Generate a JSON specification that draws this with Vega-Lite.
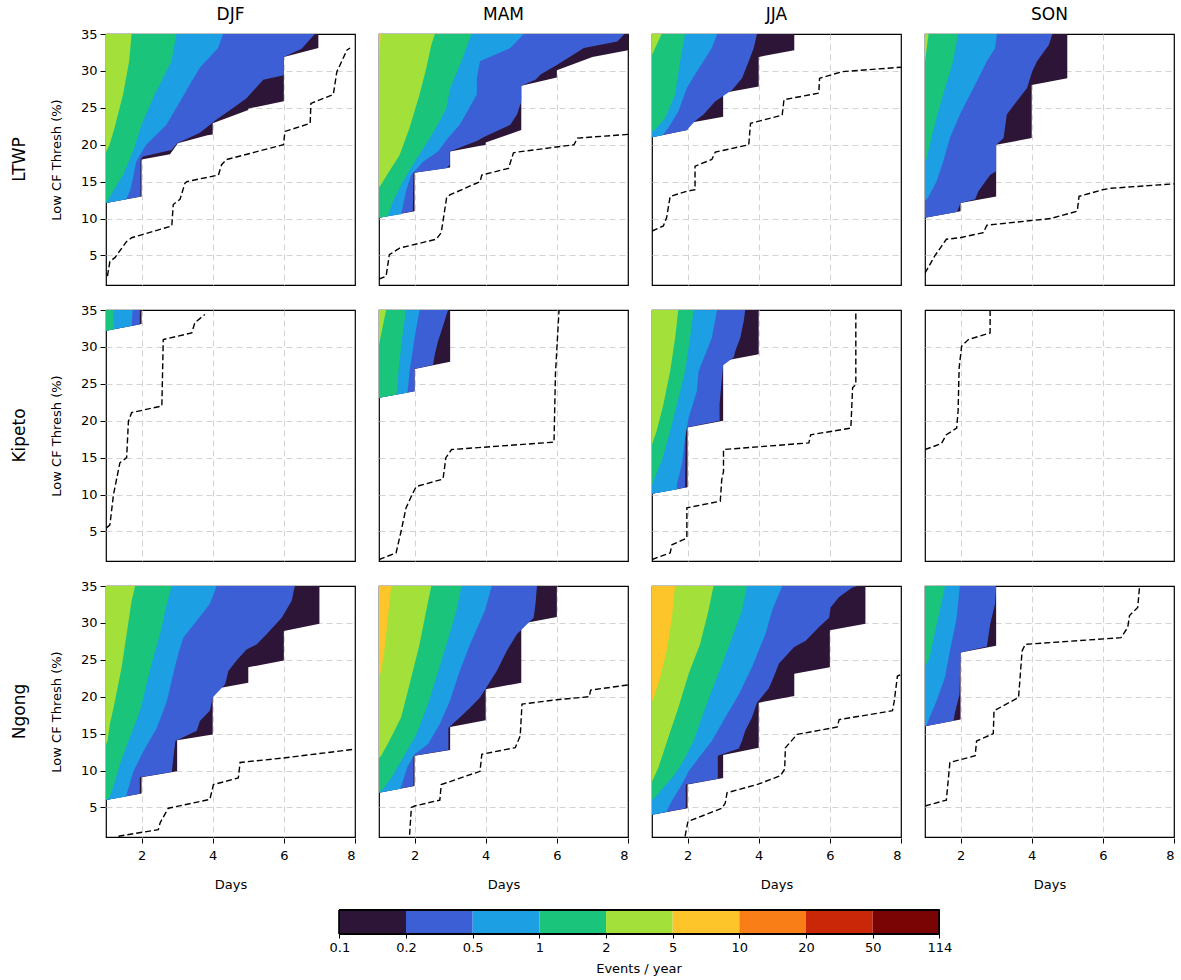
{
"$schema": "https://vega.github.io/schema/vega-lite/v6.json",
"padding": {"left": 11, "top": 6, "right": 5, "bottom": 2},
"background": "white",
"config": {
  "font": "DejaVu Sans",
  "view": {"stroke": "black", "strokeWidth": 1.2},
  "axis": {"labelFont": "DejaVu Sans", "titleFont": "DejaVu Sans", "labelFontSize": 13, "titleFontSize": 13, "titleFontWeight": "normal", "labelColor": "black", "titleColor": "black", "tickColor": "black", "tickSize": 5, "domain": false, "gridColor": "#d3d3d3", "gridDash": [6, 4], "gridWidth": 1},
  "header": {"labelFont": "DejaVu Sans", "labelFontSize": 17, "labelColor": "black"}
},
"vconcat": [
{
  "data": {"values": [
{"s":"LTWP","p":"DJF","k":"2","y":19.0,"x":1.0},{"s":"LTWP","p":"DJF","k":"2","y":20.0,"x":1.1},{"s":"LTWP","p":"DJF","k":"2","y":22.3,"x":1.24},{"s":"LTWP","p":"DJF","k":"2","y":26.8,"x":1.48},{"s":"LTWP","p":"DJF","k":"2","y":31.3,"x":1.65},{"s":"LTWP","p":"DJF","k":"2","y":35,"x":1.72},
{"s":"LTWP","p":"DJF","k":"1","y":12.1,"x":1.0},{"s":"LTWP","p":"DJF","k":"1","y":12.3,"x":1.03},{"s":"LTWP","p":"DJF","k":"1","y":13.7,"x":1.2},{"s":"LTWP","p":"DJF","k":"1","y":15.9,"x":1.48},{"s":"LTWP","p":"DJF","k":"1","y":19.1,"x":1.76},{"s":"LTWP","p":"DJF","k":"1","y":22.7,"x":2.0},{"s":"LTWP","p":"DJF","k":"1","y":26.8,"x":2.37},{"s":"LTWP","p":"DJF","k":"1","y":31.3,"x":2.84},{"s":"LTWP","p":"DJF","k":"1","y":35,"x":2.98},
{"s":"LTWP","p":"DJF","k":"0.5","y":12.1,"x":1.0},{"s":"LTWP","p":"DJF","k":"0.5","y":12.6,"x":1.57},{"s":"LTWP","p":"DJF","k":"0.5","y":13.7,"x":1.67},{"s":"LTWP","p":"DJF","k":"0.5","y":15.5,"x":1.76},{"s":"LTWP","p":"DJF","k":"0.5","y":17.7,"x":1.85},{"s":"LTWP","p":"DJF","k":"0.5","y":20.0,"x":2.13},{"s":"LTWP","p":"DJF","k":"0.5","y":22.7,"x":2.7},{"s":"LTWP","p":"DJF","k":"0.5","y":25.0,"x":2.98},{"s":"LTWP","p":"DJF","k":"0.5","y":28.1,"x":3.35},{"s":"LTWP","p":"DJF","k":"0.5","y":30.4,"x":3.63},{"s":"LTWP","p":"DJF","k":"0.5","y":33.1,"x":4.15},{"s":"LTWP","p":"DJF","k":"0.5","y":35,"x":4.29},
{"s":"LTWP","p":"DJF","k":"0.2","y":12.1,"x":1.0},{"s":"LTWP","p":"DJF","k":"0.2","y":13.0,"x":1.97},{"s":"LTWP","p":"DJF","k":"0.2","y":18.0,"x":1.97},{"s":"LTWP","p":"DJF","k":"0.2","y":18.4,"x":2.04},{"s":"LTWP","p":"DJF","k":"0.2","y":19.3,"x":2.84},{"s":"LTWP","p":"DJF","k":"0.2","y":20.2,"x":3.0},{"s":"LTWP","p":"DJF","k":"0.2","y":21.6,"x":3.63},{"s":"LTWP","p":"DJF","k":"0.2","y":22.3,"x":3.82},{"s":"LTWP","p":"DJF","k":"0.2","y":23.2,"x":4.05},{"s":"LTWP","p":"DJF","k":"0.2","y":25.4,"x":4.7},{"s":"LTWP","p":"DJF","k":"0.2","y":26.3,"x":4.95},{"s":"LTWP","p":"DJF","k":"0.2","y":28.8,"x":5.42},{"s":"LTWP","p":"DJF","k":"0.2","y":29.4,"x":6.0},{"s":"LTWP","p":"DJF","k":"0.2","y":31.9,"x":6.0},{"s":"LTWP","p":"DJF","k":"0.2","y":33.0,"x":6.5},{"s":"LTWP","p":"DJF","k":"0.2","y":35,"x":6.87},
{"s":"LTWP","p":"DJF","k":"0.1","y":12.1,"x":1.0},{"s":"LTWP","p":"DJF","k":"0.1","y":13.0,"x":2.0},{"s":"LTWP","p":"DJF","k":"0.1","y":18.0,"x":2.0},{"s":"LTWP","p":"DJF","k":"0.1","y":18.7,"x":2.8},{"s":"LTWP","p":"DJF","k":"0.1","y":20.2,"x":3.02},{"s":"LTWP","p":"DJF","k":"0.1","y":21.3,"x":3.85},{"s":"LTWP","p":"DJF","k":"0.1","y":21.4,"x":4.0},{"s":"LTWP","p":"DJF","k":"0.1","y":22.9,"x":4.0},{"s":"LTWP","p":"DJF","k":"0.1","y":24.7,"x":5.0},{"s":"LTWP","p":"DJF","k":"0.1","y":24.9,"x":5.0},{"s":"LTWP","p":"DJF","k":"0.1","y":25.9,"x":6.0},{"s":"LTWP","p":"DJF","k":"0.1","y":31.9,"x":6.0},{"s":"LTWP","p":"DJF","k":"0.1","y":33.1,"x":6.97},{"s":"LTWP","p":"DJF","k":"0.1","y":35,"x":6.97},
{"s":"LTWP","p":"DJF","k":"line","y":2.2,"x":1.04},{"s":"LTWP","p":"DJF","k":"line","y":4.2,"x":1.11},{"s":"LTWP","p":"DJF","k":"line","y":4.7,"x":1.25},{"s":"LTWP","p":"DJF","k":"line","y":6.9,"x":1.58},{"s":"LTWP","p":"DJF","k":"line","y":7.4,"x":1.72},{"s":"LTWP","p":"DJF","k":"line","y":7.8,"x":2.0},{"s":"LTWP","p":"DJF","k":"line","y":9.0,"x":2.85},{"s":"LTWP","p":"DJF","k":"line","y":11.9,"x":2.89},{"s":"LTWP","p":"DJF","k":"line","y":12.6,"x":3.08},{"s":"LTWP","p":"DJF","k":"line","y":14.8,"x":3.22},{"s":"LTWP","p":"DJF","k":"line","y":15.0,"x":3.27},{"s":"LTWP","p":"DJF","k":"line","y":15.9,"x":4.16},{"s":"LTWP","p":"DJF","k":"line","y":17.3,"x":4.25},{"s":"LTWP","p":"DJF","k":"line","y":18.0,"x":4.39},{"s":"LTWP","p":"DJF","k":"line","y":20.0,"x":5.99},{"s":"LTWP","p":"DJF","k":"line","y":21.8,"x":6.03},{"s":"LTWP","p":"DJF","k":"line","y":22.9,"x":6.74},{"s":"LTWP","p":"DJF","k":"line","y":25.6,"x":6.76},{"s":"LTWP","p":"DJF","k":"line","y":26.8,"x":7.39},{"s":"LTWP","p":"DJF","k":"line","y":29.9,"x":7.49},{"s":"LTWP","p":"DJF","k":"line","y":30.8,"x":7.58},{"s":"LTWP","p":"DJF","k":"line","y":32.8,"x":7.77},{"s":"LTWP","p":"DJF","k":"line","y":33.1,"x":7.86},

{"s":"LTWP","p":"MAM","k":"5","y":31.3,"x":1.0},{"s":"LTWP","p":"MAM","k":"5","y":35,"x":1.05},
{"s":"LTWP","p":"MAM","k":"2","y":14.2,"x":1.0},{"s":"LTWP","p":"MAM","k":"2","y":14.6,"x":1.06},{"s":"LTWP","p":"MAM","k":"2","y":16.4,"x":1.29},{"s":"LTWP","p":"MAM","k":"2","y":18.6,"x":1.58},{"s":"LTWP","p":"MAM","k":"2","y":22.3,"x":1.86},{"s":"LTWP","p":"MAM","k":"2","y":26.8,"x":2.14},{"s":"LTWP","p":"MAM","k":"2","y":30.4,"x":2.33},{"s":"LTWP","p":"MAM","k":"2","y":33.5,"x":2.47},{"s":"LTWP","p":"MAM","k":"2","y":35,"x":2.57},
{"s":"LTWP","p":"MAM","k":"1","y":10.1,"x":1.0},{"s":"LTWP","p":"MAM","k":"1","y":10.3,"x":1.25},{"s":"LTWP","p":"MAM","k":"1","y":12.3,"x":1.39},{"s":"LTWP","p":"MAM","k":"1","y":15.0,"x":1.67},{"s":"LTWP","p":"MAM","k":"1","y":17.3,"x":1.95},{"s":"LTWP","p":"MAM","k":"1","y":20.5,"x":2.38},{"s":"LTWP","p":"MAM","k":"1","y":23.2,"x":2.71},{"s":"LTWP","p":"MAM","k":"1","y":25.0,"x":2.9},{"s":"LTWP","p":"MAM","k":"1","y":27.7,"x":3.0},{"s":"LTWP","p":"MAM","k":"1","y":31.3,"x":3.32},{"s":"LTWP","p":"MAM","k":"1","y":35,"x":3.6},
{"s":"LTWP","p":"MAM","k":"0.5","y":10.1,"x":1.0},{"s":"LTWP","p":"MAM","k":"0.5","y":10.6,"x":1.62},{"s":"LTWP","p":"MAM","k":"0.5","y":11.2,"x":1.65},{"s":"LTWP","p":"MAM","k":"0.5","y":13.7,"x":1.76},{"s":"LTWP","p":"MAM","k":"0.5","y":15.9,"x":1.9},{"s":"LTWP","p":"MAM","k":"0.5","y":17.7,"x":2.24},{"s":"LTWP","p":"MAM","k":"0.5","y":19.1,"x":2.66},{"s":"LTWP","p":"MAM","k":"0.5","y":20.9,"x":2.94},{"s":"LTWP","p":"MAM","k":"0.5","y":22.7,"x":3.27},{"s":"LTWP","p":"MAM","k":"0.5","y":26.8,"x":3.75},{"s":"LTWP","p":"MAM","k":"0.5","y":29.0,"x":3.75},{"s":"LTWP","p":"MAM","k":"0.5","y":31.3,"x":3.84},{"s":"LTWP","p":"MAM","k":"0.5","y":33.1,"x":4.69},{"s":"LTWP","p":"MAM","k":"0.5","y":35,"x":5.07},
{"s":"LTWP","p":"MAM","k":"0.2","y":10.1,"x":1.0},{"s":"LTWP","p":"MAM","k":"0.2","y":11.0,"x":1.95},{"s":"LTWP","p":"MAM","k":"0.2","y":16.2,"x":1.97},{"s":"LTWP","p":"MAM","k":"0.2","y":16.8,"x":2.9},{"s":"LTWP","p":"MAM","k":"0.2","y":17.3,"x":2.99},{"s":"LTWP","p":"MAM","k":"0.2","y":19.1,"x":2.99},{"s":"LTWP","p":"MAM","k":"0.2","y":20.5,"x":3.75},{"s":"LTWP","p":"MAM","k":"0.2","y":21.1,"x":3.98},{"s":"LTWP","p":"MAM","k":"0.2","y":22.7,"x":4.69},{"s":"LTWP","p":"MAM","k":"0.2","y":24.1,"x":4.88},{"s":"LTWP","p":"MAM","k":"0.2","y":25.9,"x":5.0},{"s":"LTWP","p":"MAM","k":"0.2","y":28.0,"x":5.0},{"s":"LTWP","p":"MAM","k":"0.2","y":28.8,"x":5.4},{"s":"LTWP","p":"MAM","k":"0.2","y":29.5,"x":5.54},{"s":"LTWP","p":"MAM","k":"0.2","y":30.8,"x":6.0},{"s":"LTWP","p":"MAM","k":"0.2","y":33.1,"x":6.76},{"s":"LTWP","p":"MAM","k":"0.2","y":34.0,"x":7.7},{"s":"LTWP","p":"MAM","k":"0.2","y":35,"x":7.9},
{"s":"LTWP","p":"MAM","k":"0.1","y":10.1,"x":1.0},{"s":"LTWP","p":"MAM","k":"0.1","y":11.0,"x":2.0},{"s":"LTWP","p":"MAM","k":"0.1","y":16.2,"x":2.0},{"s":"LTWP","p":"MAM","k":"0.1","y":16.9,"x":3.0},{"s":"LTWP","p":"MAM","k":"0.1","y":19.1,"x":3.0},{"s":"LTWP","p":"MAM","k":"0.1","y":20.0,"x":4.0},{"s":"LTWP","p":"MAM","k":"0.1","y":20.3,"x":4.0},{"s":"LTWP","p":"MAM","k":"0.1","y":22.0,"x":5.0},{"s":"LTWP","p":"MAM","k":"0.1","y":28.0,"x":5.0},{"s":"LTWP","p":"MAM","k":"0.1","y":29.1,"x":6.0},{"s":"LTWP","p":"MAM","k":"0.1","y":30.1,"x":6.0},{"s":"LTWP","p":"MAM","k":"0.1","y":31.9,"x":7.0},{"s":"LTWP","p":"MAM","k":"0.1","y":32.8,"x":8.0},{"s":"LTWP","p":"MAM","k":"0.1","y":35,"x":8.0},
{"s":"LTWP","p":"MAM","k":"line","y":1.8,"x":1.0},{"s":"LTWP","p":"MAM","k":"line","y":2.2,"x":1.2},{"s":"LTWP","p":"MAM","k":"line","y":5.1,"x":1.29},{"s":"LTWP","p":"MAM","k":"line","y":6.0,"x":1.58},{"s":"LTWP","p":"MAM","k":"line","y":7.2,"x":2.61},{"s":"LTWP","p":"MAM","k":"line","y":8.1,"x":2.75},{"s":"LTWP","p":"MAM","k":"line","y":12.8,"x":2.9},{"s":"LTWP","p":"MAM","k":"line","y":13.2,"x":2.99},{"s":"LTWP","p":"MAM","k":"line","y":15.0,"x":3.84},{"s":"LTWP","p":"MAM","k":"line","y":15.9,"x":3.89},{"s":"LTWP","p":"MAM","k":"line","y":16.8,"x":4.64},{"s":"LTWP","p":"MAM","k":"line","y":18.9,"x":4.78},{"s":"LTWP","p":"MAM","k":"line","y":19.0,"x":4.88},{"s":"LTWP","p":"MAM","k":"line","y":20.0,"x":6.48},{"s":"LTWP","p":"MAM","k":"line","y":20.9,"x":6.58},{"s":"LTWP","p":"MAM","k":"line","y":21.4,"x":8.0},

{"s":"LTWP","p":"JJA","k":"2","y":32.2,"x":1.0},{"s":"LTWP","p":"JJA","k":"2","y":35,"x":1.27},
{"s":"LTWP","p":"JJA","k":"1","y":21.8,"x":1.0},{"s":"LTWP","p":"JJA","k":"1","y":22.0,"x":1.08},{"s":"LTWP","p":"JJA","k":"1","y":23.6,"x":1.37},{"s":"LTWP","p":"JJA","k":"1","y":26.8,"x":1.65},{"s":"LTWP","p":"JJA","k":"1","y":31.3,"x":1.79},{"s":"LTWP","p":"JJA","k":"1","y":35,"x":1.93},
{"s":"LTWP","p":"JJA","k":"0.5","y":21.0,"x":1.0},{"s":"LTWP","p":"JJA","k":"0.5","y":21.3,"x":1.3},{"s":"LTWP","p":"JJA","k":"0.5","y":22.3,"x":1.46},{"s":"LTWP","p":"JJA","k":"0.5","y":24.5,"x":1.74},{"s":"LTWP","p":"JJA","k":"0.5","y":27.7,"x":1.98},{"s":"LTWP","p":"JJA","k":"0.5","y":29.5,"x":2.21},{"s":"LTWP","p":"JJA","k":"0.5","y":33.1,"x":2.68},{"s":"LTWP","p":"JJA","k":"0.5","y":35,"x":2.83},
{"s":"LTWP","p":"JJA","k":"0.2","y":21.0,"x":1.0},{"s":"LTWP","p":"JJA","k":"0.2","y":22.0,"x":1.98},{"s":"LTWP","p":"JJA","k":"0.2","y":23.2,"x":2.21},{"s":"LTWP","p":"JJA","k":"0.2","y":24.1,"x":2.45},{"s":"LTWP","p":"JJA","k":"0.2","y":25.9,"x":2.78},{"s":"LTWP","p":"JJA","k":"0.2","y":27.4,"x":3.25},{"s":"LTWP","p":"JJA","k":"0.2","y":29.0,"x":3.53},{"s":"LTWP","p":"JJA","k":"0.2","y":31.3,"x":3.72},{"s":"LTWP","p":"JJA","k":"0.2","y":33.1,"x":3.86},{"s":"LTWP","p":"JJA","k":"0.2","y":35,"x":3.95},
{"s":"LTWP","p":"JJA","k":"0.1","y":21.0,"x":1.0},{"s":"LTWP","p":"JJA","k":"0.1","y":22.0,"x":2.0},{"s":"LTWP","p":"JJA","k":"0.1","y":22.9,"x":2.0},{"s":"LTWP","p":"JJA","k":"0.1","y":23.8,"x":3.0},{"s":"LTWP","p":"JJA","k":"0.1","y":27.0,"x":3.0},{"s":"LTWP","p":"JJA","k":"0.1","y":27.9,"x":4.0},{"s":"LTWP","p":"JJA","k":"0.1","y":31.9,"x":4.0},{"s":"LTWP","p":"JJA","k":"0.1","y":32.8,"x":5.0},{"s":"LTWP","p":"JJA","k":"0.1","y":35,"x":5.0},
{"s":"LTWP","p":"JJA","k":"line","y":8.3,"x":1.0},{"s":"LTWP","p":"JJA","k":"line","y":9.0,"x":1.32},{"s":"LTWP","p":"JJA","k":"line","y":10.1,"x":1.41},{"s":"LTWP","p":"JJA","k":"line","y":13.0,"x":1.51},{"s":"LTWP","p":"JJA","k":"line","y":13.7,"x":1.98},{"s":"LTWP","p":"JJA","k":"line","y":13.9,"x":2.21},{"s":"LTWP","p":"JJA","k":"line","y":17.1,"x":2.21},{"s":"LTWP","p":"JJA","k":"line","y":18.0,"x":2.68},{"s":"LTWP","p":"JJA","k":"line","y":19.0,"x":2.78},{"s":"LTWP","p":"JJA","k":"line","y":20.0,"x":3.72},{"s":"LTWP","p":"JJA","k":"line","y":22.9,"x":3.77},{"s":"LTWP","p":"JJA","k":"line","y":24.0,"x":4.66},{"s":"LTWP","p":"JJA","k":"line","y":26.1,"x":4.71},{"s":"LTWP","p":"JJA","k":"line","y":27.0,"x":5.69},{"s":"LTWP","p":"JJA","k":"line","y":29.0,"x":5.71},{"s":"LTWP","p":"JJA","k":"line","y":29.9,"x":6.35},{"s":"LTWP","p":"JJA","k":"line","y":30.5,"x":8.0},

{"s":"LTWP","p":"SON","k":"2","y":31.3,"x":1.0},{"s":"LTWP","p":"SON","k":"2","y":35,"x":1.1},
{"s":"LTWP","p":"SON","k":"1","y":17.7,"x":1.0},{"s":"LTWP","p":"SON","k":"1","y":18.0,"x":1.04},{"s":"LTWP","p":"SON","k":"1","y":20.9,"x":1.18},{"s":"LTWP","p":"SON","k":"1","y":23.6,"x":1.32},{"s":"LTWP","p":"SON","k":"1","y":26.8,"x":1.51},{"s":"LTWP","p":"SON","k":"1","y":31.3,"x":1.79},{"s":"LTWP","p":"SON","k":"1","y":35,"x":1.93},
{"s":"LTWP","p":"SON","k":"0.5","y":12.4,"x":1.0},{"s":"LTWP","p":"SON","k":"0.5","y":12.8,"x":1.08},{"s":"LTWP","p":"SON","k":"0.5","y":15.0,"x":1.32},{"s":"LTWP","p":"SON","k":"0.5","y":17.7,"x":1.51},{"s":"LTWP","p":"SON","k":"0.5","y":20.9,"x":1.7},{"s":"LTWP","p":"SON","k":"0.5","y":24.1,"x":1.98},{"s":"LTWP","p":"SON","k":"0.5","y":27.7,"x":2.36},{"s":"LTWP","p":"SON","k":"0.5","y":31.3,"x":2.74},{"s":"LTWP","p":"SON","k":"0.5","y":33.1,"x":2.97},{"s":"LTWP","p":"SON","k":"0.5","y":35,"x":3.02},
{"s":"LTWP","p":"SON","k":"0.2","y":10.1,"x":1.0},{"s":"LTWP","p":"SON","k":"0.2","y":10.9,"x":1.9},{"s":"LTWP","p":"SON","k":"0.2","y":12.1,"x":2.0},{"s":"LTWP","p":"SON","k":"0.2","y":12.6,"x":2.41},{"s":"LTWP","p":"SON","k":"0.2","y":13.7,"x":2.5},{"s":"LTWP","p":"SON","k":"0.2","y":15.9,"x":2.83},{"s":"LTWP","p":"SON","k":"0.2","y":16.4,"x":3.0},{"s":"LTWP","p":"SON","k":"0.2","y":20.0,"x":3.0},{"s":"LTWP","p":"SON","k":"0.2","y":20.9,"x":3.21},{"s":"LTWP","p":"SON","k":"0.2","y":24.1,"x":3.3},{"s":"LTWP","p":"SON","k":"0.2","y":25.9,"x":3.58},{"s":"LTWP","p":"SON","k":"0.2","y":27.7,"x":3.87},{"s":"LTWP","p":"SON","k":"0.2","y":29.9,"x":4.01},{"s":"LTWP","p":"SON","k":"0.2","y":31.3,"x":4.15},{"s":"LTWP","p":"SON","k":"0.2","y":33.5,"x":4.48},{"s":"LTWP","p":"SON","k":"0.2","y":35,"x":4.58},
{"s":"LTWP","p":"SON","k":"0.1","y":10.1,"x":1.0},{"s":"LTWP","p":"SON","k":"0.1","y":11.0,"x":2.0},{"s":"LTWP","p":"SON","k":"0.1","y":12.1,"x":2.0},{"s":"LTWP","p":"SON","k":"0.1","y":13.0,"x":3.0},{"s":"LTWP","p":"SON","k":"0.1","y":20.0,"x":3.0},{"s":"LTWP","p":"SON","k":"0.1","y":20.9,"x":4.0},{"s":"LTWP","p":"SON","k":"0.1","y":28.1,"x":4.0},{"s":"LTWP","p":"SON","k":"0.1","y":29.0,"x":5.0},{"s":"LTWP","p":"SON","k":"0.1","y":35,"x":5.0},
{"s":"LTWP","p":"SON","k":"line","y":2.6,"x":1.0},{"s":"LTWP","p":"SON","k":"line","y":4.9,"x":1.27},{"s":"LTWP","p":"SON","k":"line","y":7.2,"x":1.6},{"s":"LTWP","p":"SON","k":"line","y":7.4,"x":1.98},{"s":"LTWP","p":"SON","k":"line","y":8.1,"x":2.64},{"s":"LTWP","p":"SON","k":"line","y":9.1,"x":2.74},{"s":"LTWP","p":"SON","k":"line","y":10.0,"x":4.53},{"s":"LTWP","p":"SON","k":"line","y":11.0,"x":5.28},{"s":"LTWP","p":"SON","k":"line","y":13.0,"x":5.33},{"s":"LTWP","p":"SON","k":"line","y":13.9,"x":5.99},{"s":"LTWP","p":"SON","k":"line","y":14.1,"x":6.23},{"s":"LTWP","p":"SON","k":"line","y":14.7,"x":8.0},

{"s":"Kipeto","p":"DJF","k":"1","y":32.2,"x":1.0},{"s":"Kipeto","p":"DJF","k":"1","y":32.4,"x":1.22},{"s":"Kipeto","p":"DJF","k":"1","y":35,"x":1.2},
{"s":"Kipeto","p":"DJF","k":"0.5","y":32.2,"x":1.0},{"s":"Kipeto","p":"DJF","k":"0.5","y":32.85,"x":1.72},{"s":"Kipeto","p":"DJF","k":"0.5","y":35,"x":1.75},
{"s":"Kipeto","p":"DJF","k":"0.2","y":32.2,"x":1.0},{"s":"Kipeto","p":"DJF","k":"0.2","y":33.05,"x":1.95},{"s":"Kipeto","p":"DJF","k":"0.2","y":35,"x":1.95},
{"s":"Kipeto","p":"DJF","k":"0.1","y":32.2,"x":1.0},{"s":"Kipeto","p":"DJF","k":"0.1","y":33.1,"x":2.0},{"s":"Kipeto","p":"DJF","k":"0.1","y":35,"x":2.0},
{"s":"Kipeto","p":"DJF","k":"line","y":5.5,"x":1.02},{"s":"Kipeto","p":"DJF","k":"line","y":5.9,"x":1.11},{"s":"Kipeto","p":"DJF","k":"line","y":10.0,"x":1.21},{"s":"Kipeto","p":"DJF","k":"line","y":14.3,"x":1.39},{"s":"Kipeto","p":"DJF","k":"line","y":15.0,"x":1.58},{"s":"Kipeto","p":"DJF","k":"line","y":19.9,"x":1.63},{"s":"Kipeto","p":"DJF","k":"line","y":21.1,"x":1.72},{"s":"Kipeto","p":"DJF","k":"line","y":22.0,"x":2.57},{"s":"Kipeto","p":"DJF","k":"line","y":31.0,"x":2.61},{"s":"Kipeto","p":"DJF","k":"line","y":31.9,"x":3.41},{"s":"Kipeto","p":"DJF","k":"line","y":33.3,"x":3.5},{"s":"Kipeto","p":"DJF","k":"line","y":34.4,"x":3.78},

{"s":"Kipeto","p":"MAM","k":"2","y":30.3,"x":1.0},{"s":"Kipeto","p":"MAM","k":"2","y":35,"x":1.2},
{"s":"Kipeto","p":"MAM","k":"1","y":23.1,"x":1.0},{"s":"Kipeto","p":"MAM","k":"1","y":23.55,"x":1.5},{"s":"Kipeto","p":"MAM","k":"1","y":26.7,"x":1.55},{"s":"Kipeto","p":"MAM","k":"1","y":31.2,"x":1.65},{"s":"Kipeto","p":"MAM","k":"1","y":35,"x":1.76},
{"s":"Kipeto","p":"MAM","k":"0.5","y":23.1,"x":1.0},{"s":"Kipeto","p":"MAM","k":"0.5","y":23.8,"x":1.8},{"s":"Kipeto","p":"MAM","k":"0.5","y":26.7,"x":1.86},{"s":"Kipeto","p":"MAM","k":"0.5","y":31.2,"x":2.0},{"s":"Kipeto","p":"MAM","k":"0.5","y":35,"x":2.14},
{"s":"Kipeto","p":"MAM","k":"0.2","y":23.1,"x":1.0},{"s":"Kipeto","p":"MAM","k":"0.2","y":24.0,"x":2.0},{"s":"Kipeto","p":"MAM","k":"0.2","y":27.0,"x":2.0},{"s":"Kipeto","p":"MAM","k":"0.2","y":27.6,"x":2.52},{"s":"Kipeto","p":"MAM","k":"0.2","y":29.0,"x":2.57},{"s":"Kipeto","p":"MAM","k":"0.2","y":30.8,"x":2.66},{"s":"Kipeto","p":"MAM","k":"0.2","y":32.1,"x":2.75},{"s":"Kipeto","p":"MAM","k":"0.2","y":35,"x":2.94},
{"s":"Kipeto","p":"MAM","k":"0.1","y":23.1,"x":1.0},{"s":"Kipeto","p":"MAM","k":"0.1","y":24.0,"x":2.0},{"s":"Kipeto","p":"MAM","k":"0.1","y":27.0,"x":2.0},{"s":"Kipeto","p":"MAM","k":"0.1","y":28.0,"x":3.0},{"s":"Kipeto","p":"MAM","k":"0.1","y":35,"x":3.0},
{"s":"Kipeto","p":"MAM","k":"line","y":1.2,"x":1.0},{"s":"Kipeto","p":"MAM","k":"line","y":2.1,"x":1.48},{"s":"Kipeto","p":"MAM","k":"line","y":5.0,"x":1.62},{"s":"Kipeto","p":"MAM","k":"line","y":8.2,"x":1.76},{"s":"Kipeto","p":"MAM","k":"line","y":10.2,"x":1.95},{"s":"Kipeto","p":"MAM","k":"line","y":11.1,"x":2.05},{"s":"Kipeto","p":"MAM","k":"line","y":12.1,"x":2.8},{"s":"Kipeto","p":"MAM","k":"line","y":15.0,"x":2.88},{"s":"Kipeto","p":"MAM","k":"line","y":16.1,"x":3.04},{"s":"Kipeto","p":"MAM","k":"line","y":17.1,"x":5.92},{"s":"Kipeto","p":"MAM","k":"line","y":26.3,"x":5.96},{"s":"Kipeto","p":"MAM","k":"line","y":34.9,"x":6.06},

{"s":"Kipeto","p":"JJA","k":"2","y":16.8,"x":1.0},{"s":"Kipeto","p":"JJA","k":"2","y":18.6,"x":1.13},{"s":"Kipeto","p":"JJA","k":"2","y":22.2,"x":1.32},{"s":"Kipeto","p":"JJA","k":"2","y":26.7,"x":1.51},{"s":"Kipeto","p":"JJA","k":"2","y":31.2,"x":1.65},{"s":"Kipeto","p":"JJA","k":"2","y":35,"x":1.74},
{"s":"Kipeto","p":"JJA","k":"1","y":11.3,"x":1.0},{"s":"Kipeto","p":"JJA","k":"1","y":12.3,"x":1.08},{"s":"Kipeto","p":"JJA","k":"1","y":14.5,"x":1.27},{"s":"Kipeto","p":"JJA","k":"1","y":17.7,"x":1.46},{"s":"Kipeto","p":"JJA","k":"1","y":22.2,"x":1.7},{"s":"Kipeto","p":"JJA","k":"1","y":26.7,"x":1.93},{"s":"Kipeto","p":"JJA","k":"1","y":31.2,"x":2.07},{"s":"Kipeto","p":"JJA","k":"1","y":35,"x":2.17},
{"s":"Kipeto","p":"JJA","k":"0.5","y":10.1,"x":1.0},{"s":"Kipeto","p":"JJA","k":"0.5","y":10.7,"x":1.7},{"s":"Kipeto","p":"JJA","k":"0.5","y":11.4,"x":1.7},{"s":"Kipeto","p":"JJA","k":"0.5","y":14.1,"x":1.84},{"s":"Kipeto","p":"JJA","k":"0.5","y":17.7,"x":1.93},{"s":"Kipeto","p":"JJA","k":"0.5","y":20.4,"x":2.03},{"s":"Kipeto","p":"JJA","k":"0.5","y":24.0,"x":2.26},{"s":"Kipeto","p":"JJA","k":"0.5","y":26.7,"x":2.31},{"s":"Kipeto","p":"JJA","k":"0.5","y":31.2,"x":2.68},{"s":"Kipeto","p":"JJA","k":"0.5","y":35,"x":2.83},
{"s":"Kipeto","p":"JJA","k":"0.2","y":10.1,"x":1.0},{"s":"Kipeto","p":"JJA","k":"0.2","y":10.95,"x":1.93},{"s":"Kipeto","p":"JJA","k":"0.2","y":19.1,"x":1.95},{"s":"Kipeto","p":"JJA","k":"0.2","y":20.0,"x":2.9},{"s":"Kipeto","p":"JJA","k":"0.2","y":22.2,"x":2.9},{"s":"Kipeto","p":"JJA","k":"0.2","y":24.5,"x":2.94},{"s":"Kipeto","p":"JJA","k":"0.2","y":27.5,"x":3.0},{"s":"Kipeto","p":"JJA","k":"0.2","y":28.6,"x":3.3},{"s":"Kipeto","p":"JJA","k":"0.2","y":29.4,"x":3.34},{"s":"Kipeto","p":"JJA","k":"0.2","y":31.2,"x":3.48},{"s":"Kipeto","p":"JJA","k":"0.2","y":33.5,"x":3.58},{"s":"Kipeto","p":"JJA","k":"0.2","y":35,"x":3.62},
{"s":"Kipeto","p":"JJA","k":"0.1","y":10.1,"x":1.0},{"s":"Kipeto","p":"JJA","k":"0.1","y":11.0,"x":2.0},{"s":"Kipeto","p":"JJA","k":"0.1","y":19.1,"x":2.0},{"s":"Kipeto","p":"JJA","k":"0.1","y":20.0,"x":3.0},{"s":"Kipeto","p":"JJA","k":"0.1","y":28.1,"x":3.0},{"s":"Kipeto","p":"JJA","k":"0.1","y":29.0,"x":4.0},{"s":"Kipeto","p":"JJA","k":"0.1","y":35,"x":4.0},
{"s":"Kipeto","p":"JJA","k":"line","y":1.2,"x":1.0},{"s":"Kipeto","p":"JJA","k":"line","y":2.1,"x":1.51},{"s":"Kipeto","p":"JJA","k":"line","y":3.2,"x":1.56},{"s":"Kipeto","p":"JJA","k":"line","y":4.1,"x":1.98},{"s":"Kipeto","p":"JJA","k":"line","y":8.2,"x":1.98},{"s":"Kipeto","p":"JJA","k":"line","y":9.1,"x":2.92},{"s":"Kipeto","p":"JJA","k":"line","y":12.0,"x":2.96},{"s":"Kipeto","p":"JJA","k":"line","y":13.1,"x":3.01},{"s":"Kipeto","p":"JJA","k":"line","y":16.1,"x":3.01},{"s":"Kipeto","p":"JJA","k":"line","y":17.0,"x":5.41},{"s":"Kipeto","p":"JJA","k":"line","y":18.1,"x":5.46},{"s":"Kipeto","p":"JJA","k":"line","y":19.0,"x":6.59},{"s":"Kipeto","p":"JJA","k":"line","y":24.5,"x":6.64},{"s":"Kipeto","p":"JJA","k":"line","y":24.9,"x":6.73},{"s":"Kipeto","p":"JJA","k":"line","y":34.9,"x":6.73},

{"s":"Kipeto","p":"SON","k":"line","y":16.1,"x":1.0},{"s":"Kipeto","p":"SON","k":"line","y":16.9,"x":1.46},{"s":"Kipeto","p":"SON","k":"line","y":18.1,"x":1.6},{"s":"Kipeto","p":"SON","k":"line","y":19.0,"x":1.89},{"s":"Kipeto","p":"SON","k":"line","y":21.3,"x":1.93},{"s":"Kipeto","p":"SON","k":"line","y":27.2,"x":1.96},{"s":"Kipeto","p":"SON","k":"line","y":30.1,"x":2.03},{"s":"Kipeto","p":"SON","k":"line","y":31.0,"x":2.22},{"s":"Kipeto","p":"SON","k":"line","y":31.9,"x":2.83},{"s":"Kipeto","p":"SON","k":"line","y":34.9,"x":2.83},

{"s":"Ngong","p":"DJF","k":"2","y":13.6,"x":1.0},{"s":"Ngong","p":"DJF","k":"2","y":14.0,"x":1.04},{"s":"Ngong","p":"DJF","k":"2","y":16.3,"x":1.11},{"s":"Ngong","p":"DJF","k":"2","y":19.4,"x":1.25},{"s":"Ngong","p":"DJF","k":"2","y":24.0,"x":1.44},{"s":"Ngong","p":"DJF","k":"2","y":28.5,"x":1.58},{"s":"Ngong","p":"DJF","k":"2","y":33.0,"x":1.72},{"s":"Ngong","p":"DJF","k":"2","y":35,"x":1.82},
{"s":"Ngong","p":"DJF","k":"1","y":6.0,"x":1.0},{"s":"Ngong","p":"DJF","k":"1","y":6.3,"x":1.09},{"s":"Ngong","p":"DJF","k":"1","y":7.7,"x":1.2},{"s":"Ngong","p":"DJF","k":"1","y":10.8,"x":1.39},{"s":"Ngong","p":"DJF","k":"1","y":14.5,"x":1.67},{"s":"Ngong","p":"DJF","k":"1","y":18.1,"x":1.96},{"s":"Ngong","p":"DJF","k":"1","y":21.7,"x":2.14},{"s":"Ngong","p":"DJF","k":"1","y":25.3,"x":2.33},{"s":"Ngong","p":"DJF","k":"1","y":28.5,"x":2.52},{"s":"Ngong","p":"DJF","k":"1","y":32.6,"x":2.71},{"s":"Ngong","p":"DJF","k":"1","y":35,"x":2.85},
{"s":"Ngong","p":"DJF","k":"0.5","y":6.0,"x":1.0},{"s":"Ngong","p":"DJF","k":"0.5","y":6.5,"x":1.58},{"s":"Ngong","p":"DJF","k":"0.5","y":6.8,"x":1.58},{"s":"Ngong","p":"DJF","k":"0.5","y":9.9,"x":1.77},{"s":"Ngong","p":"DJF","k":"0.5","y":12.6,"x":2.05},{"s":"Ngong","p":"DJF","k":"0.5","y":15.8,"x":2.43},{"s":"Ngong","p":"DJF","k":"0.5","y":19.4,"x":2.71},{"s":"Ngong","p":"DJF","k":"0.5","y":23.1,"x":2.89},{"s":"Ngong","p":"DJF","k":"0.5","y":25.8,"x":3.03},{"s":"Ngong","p":"DJF","k":"0.5","y":28.0,"x":3.17},{"s":"Ngong","p":"DJF","k":"0.5","y":30.3,"x":3.55},{"s":"Ngong","p":"DJF","k":"0.5","y":32.6,"x":3.92},{"s":"Ngong","p":"DJF","k":"0.5","y":35,"x":4.11},
{"s":"Ngong","p":"DJF","k":"0.2","y":6.0,"x":1.0},{"s":"Ngong","p":"DJF","k":"0.2","y":6.85,"x":1.95},{"s":"Ngong","p":"DJF","k":"0.2","y":9.1,"x":1.95},{"s":"Ngong","p":"DJF","k":"0.2","y":9.8,"x":2.85},{"s":"Ngong","p":"DJF","k":"0.2","y":12.0,"x":2.9},{"s":"Ngong","p":"DJF","k":"0.2","y":14.0,"x":2.95},{"s":"Ngong","p":"DJF","k":"0.2","y":15.4,"x":3.55},{"s":"Ngong","p":"DJF","k":"0.2","y":16.7,"x":3.64},{"s":"Ngong","p":"DJF","k":"0.2","y":18.1,"x":3.92},{"s":"Ngong","p":"DJF","k":"0.2","y":19.9,"x":4.0},{"s":"Ngong","p":"DJF","k":"0.2","y":21.7,"x":4.35},{"s":"Ngong","p":"DJF","k":"0.2","y":23.5,"x":4.44},{"s":"Ngong","p":"DJF","k":"0.2","y":24.9,"x":4.67},{"s":"Ngong","p":"DJF","k":"0.2","y":26.4,"x":4.95},{"s":"Ngong","p":"DJF","k":"0.2","y":27.1,"x":5.24},{"s":"Ngong","p":"DJF","k":"0.2","y":28.5,"x":5.52},{"s":"Ngong","p":"DJF","k":"0.2","y":30.7,"x":5.94},{"s":"Ngong","p":"DJF","k":"0.2","y":33.0,"x":6.22},{"s":"Ngong","p":"DJF","k":"0.2","y":35,"x":6.31},
{"s":"Ngong","p":"DJF","k":"0.1","y":6.0,"x":1.0},{"s":"Ngong","p":"DJF","k":"0.1","y":6.9,"x":2.0},{"s":"Ngong","p":"DJF","k":"0.1","y":9.1,"x":2.0},{"s":"Ngong","p":"DJF","k":"0.1","y":9.9,"x":3.0},{"s":"Ngong","p":"DJF","k":"0.1","y":14.1,"x":3.0},{"s":"Ngong","p":"DJF","k":"0.1","y":14.9,"x":4.0},{"s":"Ngong","p":"DJF","k":"0.1","y":21.0,"x":4.0},{"s":"Ngong","p":"DJF","k":"0.1","y":21.9,"x":5.0},{"s":"Ngong","p":"DJF","k":"0.1","y":24.0,"x":5.0},{"s":"Ngong","p":"DJF","k":"0.1","y":24.9,"x":6.0},{"s":"Ngong","p":"DJF","k":"0.1","y":28.9,"x":6.0},{"s":"Ngong","p":"DJF","k":"0.1","y":29.9,"x":7.0},{"s":"Ngong","p":"DJF","k":"0.1","y":35,"x":7.0},
{"s":"Ngong","p":"DJF","k":"line","y":1.1,"x":1.35},{"s":"Ngong","p":"DJF","k":"line","y":2.0,"x":2.47},{"s":"Ngong","p":"DJF","k":"line","y":2.9,"x":2.52},{"s":"Ngong","p":"DJF","k":"line","y":4.9,"x":2.75},{"s":"Ngong","p":"DJF","k":"line","y":6.1,"x":3.92},{"s":"Ngong","p":"DJF","k":"line","y":8.1,"x":4.02},{"s":"Ngong","p":"DJF","k":"line","y":9.0,"x":4.72},{"s":"Ngong","p":"DJF","k":"line","y":11.1,"x":4.77},{"s":"Ngong","p":"DJF","k":"line","y":11.7,"x":5.99},{"s":"Ngong","p":"DJF","k":"line","y":12.9,"x":8.0},

{"s":"Ngong","p":"MAM","k":"5","y":22.6,"x":1.0},{"s":"Ngong","p":"MAM","k":"5","y":23.5,"x":1.06},{"s":"Ngong","p":"MAM","k":"5","y":26.2,"x":1.15},{"s":"Ngong","p":"MAM","k":"5","y":30.7,"x":1.25},{"s":"Ngong","p":"MAM","k":"5","y":35,"x":1.34},
{"s":"Ngong","p":"MAM","k":"2","y":11.7,"x":1.0},{"s":"Ngong","p":"MAM","k":"2","y":12.0,"x":1.06},{"s":"Ngong","p":"MAM","k":"2","y":14.0,"x":1.29},{"s":"Ngong","p":"MAM","k":"2","y":17.2,"x":1.62},{"s":"Ngong","p":"MAM","k":"2","y":21.7,"x":1.86},{"s":"Ngong","p":"MAM","k":"2","y":27.1,"x":2.14},{"s":"Ngong","p":"MAM","k":"2","y":31.7,"x":2.33},{"s":"Ngong","p":"MAM","k":"2","y":35,"x":2.47},
{"s":"Ngong","p":"MAM","k":"1","y":7.0,"x":1.0},{"s":"Ngong","p":"MAM","k":"1","y":7.4,"x":1.1},{"s":"Ngong","p":"MAM","k":"1","y":9.0,"x":1.34},{"s":"Ngong","p":"MAM","k":"1","y":11.7,"x":1.67},{"s":"Ngong","p":"MAM","k":"1","y":14.9,"x":2.05},{"s":"Ngong","p":"MAM","k":"1","y":19.0,"x":2.38},{"s":"Ngong","p":"MAM","k":"1","y":22.6,"x":2.61},{"s":"Ngong","p":"MAM","k":"1","y":27.1,"x":2.9},{"s":"Ngong","p":"MAM","k":"1","y":31.7,"x":3.18},{"s":"Ngong","p":"MAM","k":"1","y":35,"x":3.32},
{"s":"Ngong","p":"MAM","k":"0.5","y":7.0,"x":1.0},{"s":"Ngong","p":"MAM","k":"0.5","y":7.55,"x":1.6},{"s":"Ngong","p":"MAM","k":"0.5","y":9.0,"x":1.7},{"s":"Ngong","p":"MAM","k":"0.5","y":10.5,"x":1.8},{"s":"Ngong","p":"MAM","k":"0.5","y":12.2,"x":2.0},{"s":"Ngong","p":"MAM","k":"0.5","y":13.6,"x":2.38},{"s":"Ngong","p":"MAM","k":"0.5","y":16.3,"x":2.71},{"s":"Ngong","p":"MAM","k":"0.5","y":19.4,"x":2.99},{"s":"Ngong","p":"MAM","k":"0.5","y":23.5,"x":3.27},{"s":"Ngong","p":"MAM","k":"0.5","y":27.1,"x":3.56},{"s":"Ngong","p":"MAM","k":"0.5","y":31.7,"x":3.98},{"s":"Ngong","p":"MAM","k":"0.5","y":35,"x":4.17},
{"s":"Ngong","p":"MAM","k":"0.2","y":7.0,"x":1.0},{"s":"Ngong","p":"MAM","k":"0.2","y":7.9,"x":1.97},{"s":"Ngong","p":"MAM","k":"0.2","y":12.0,"x":1.97},{"s":"Ngong","p":"MAM","k":"0.2","y":12.8,"x":2.95},{"s":"Ngong","p":"MAM","k":"0.2","y":15.8,"x":2.95},{"s":"Ngong","p":"MAM","k":"0.2","y":17.2,"x":3.27},{"s":"Ngong","p":"MAM","k":"0.2","y":18.5,"x":3.56},{"s":"Ngong","p":"MAM","k":"0.2","y":19.9,"x":3.84},{"s":"Ngong","p":"MAM","k":"0.2","y":23.5,"x":4.31},{"s":"Ngong","p":"MAM","k":"0.2","y":26.2,"x":4.59},{"s":"Ngong","p":"MAM","k":"0.2","y":28.5,"x":4.88},{"s":"Ngong","p":"MAM","k":"0.2","y":30.7,"x":5.35},{"s":"Ngong","p":"MAM","k":"0.2","y":32.6,"x":5.4},{"s":"Ngong","p":"MAM","k":"0.2","y":35,"x":5.44},
{"s":"Ngong","p":"MAM","k":"0.1","y":7.0,"x":1.0},{"s":"Ngong","p":"MAM","k":"0.1","y":7.9,"x":2.0},{"s":"Ngong","p":"MAM","k":"0.1","y":12.0,"x":2.0},{"s":"Ngong","p":"MAM","k":"0.1","y":12.8,"x":3.0},{"s":"Ngong","p":"MAM","k":"0.1","y":15.9,"x":3.0},{"s":"Ngong","p":"MAM","k":"0.1","y":16.8,"x":4.0},{"s":"Ngong","p":"MAM","k":"0.1","y":21.0,"x":4.0},{"s":"Ngong","p":"MAM","k":"0.1","y":21.9,"x":5.0},{"s":"Ngong","p":"MAM","k":"0.1","y":29.9,"x":5.0},{"s":"Ngong","p":"MAM","k":"0.1","y":30.8,"x":6.0},{"s":"Ngong","p":"MAM","k":"0.1","y":35,"x":6.0},
{"s":"Ngong","p":"MAM","k":"line","y":1.3,"x":1.86},{"s":"Ngong","p":"MAM","k":"line","y":5.0,"x":1.91},{"s":"Ngong","p":"MAM","k":"line","y":5.2,"x":2.0},{"s":"Ngong","p":"MAM","k":"line","y":6.0,"x":2.71},{"s":"Ngong","p":"MAM","k":"line","y":8.1,"x":2.75},{"s":"Ngong","p":"MAM","k":"line","y":9.9,"x":3.84},{"s":"Ngong","p":"MAM","k":"line","y":12.2,"x":3.89},{"s":"Ngong","p":"MAM","k":"line","y":13.1,"x":4.83},{"s":"Ngong","p":"MAM","k":"line","y":14.7,"x":4.97},{"s":"Ngong","p":"MAM","k":"line","y":19.0,"x":5.02},{"s":"Ngong","p":"MAM","k":"line","y":19.6,"x":6.0},{"s":"Ngong","p":"MAM","k":"line","y":20.0,"x":6.91},{"s":"Ngong","p":"MAM","k":"line","y":20.9,"x":6.95},{"s":"Ngong","p":"MAM","k":"line","y":21.6,"x":8.0},

{"s":"Ngong","p":"JJA","k":"5","y":19.4,"x":1.0},{"s":"Ngong","p":"JJA","k":"5","y":20.3,"x":1.08},{"s":"Ngong","p":"JJA","k":"5","y":22.6,"x":1.23},{"s":"Ngong","p":"JJA","k":"5","y":26.2,"x":1.41},{"s":"Ngong","p":"JJA","k":"5","y":30.7,"x":1.56},{"s":"Ngong","p":"JJA","k":"5","y":35,"x":1.65},
{"s":"Ngong","p":"JJA","k":"2","y":8.5,"x":1.0},{"s":"Ngong","p":"JJA","k":"2","y":10.4,"x":1.18},{"s":"Ngong","p":"JJA","k":"2","y":14.5,"x":1.46},{"s":"Ngong","p":"JJA","k":"2","y":18.5,"x":1.74},{"s":"Ngong","p":"JJA","k":"2","y":23.1,"x":2.03},{"s":"Ngong","p":"JJA","k":"2","y":27.1,"x":2.35},{"s":"Ngong","p":"JJA","k":"2","y":31.7,"x":2.59},{"s":"Ngong","p":"JJA","k":"2","y":35,"x":2.73},
{"s":"Ngong","p":"JJA","k":"1","y":6.0,"x":1.0},{"s":"Ngong","p":"JJA","k":"1","y":6.3,"x":1.08},{"s":"Ngong","p":"JJA","k":"1","y":7.7,"x":1.32},{"s":"Ngong","p":"JJA","k":"1","y":9.5,"x":1.65},{"s":"Ngong","p":"JJA","k":"1","y":11.7,"x":1.93},{"s":"Ngong","p":"JJA","k":"1","y":14.0,"x":2.17},{"s":"Ngong","p":"JJA","k":"1","y":17.2,"x":2.4},{"s":"Ngong","p":"JJA","k":"1","y":20.8,"x":2.68},{"s":"Ngong","p":"JJA","k":"1","y":24.4,"x":2.97},{"s":"Ngong","p":"JJA","k":"1","y":28.0,"x":3.25},{"s":"Ngong","p":"JJA","k":"1","y":31.7,"x":3.53},{"s":"Ngong","p":"JJA","k":"1","y":35,"x":3.67},
{"s":"Ngong","p":"JJA","k":"0.5","y":4.0,"x":1.0},{"s":"Ngong","p":"JJA","k":"0.5","y":4.4,"x":1.4},{"s":"Ngong","p":"JJA","k":"0.5","y":5.9,"x":1.56},{"s":"Ngong","p":"JJA","k":"0.5","y":8.1,"x":1.84},{"s":"Ngong","p":"JJA","k":"0.5","y":9.9,"x":2.03},{"s":"Ngong","p":"JJA","k":"0.5","y":11.7,"x":2.31},{"s":"Ngong","p":"JJA","k":"0.5","y":14.0,"x":2.68},{"s":"Ngong","p":"JJA","k":"0.5","y":17.2,"x":3.06},{"s":"Ngong","p":"JJA","k":"0.5","y":20.3,"x":3.44},{"s":"Ngong","p":"JJA","k":"0.5","y":24.0,"x":3.81},{"s":"Ngong","p":"JJA","k":"0.5","y":28.5,"x":4.19},{"s":"Ngong","p":"JJA","k":"0.5","y":31.7,"x":4.38},{"s":"Ngong","p":"JJA","k":"0.5","y":35,"x":4.66},
{"s":"Ngong","p":"JJA","k":"0.2","y":4.0,"x":1.0},{"s":"Ngong","p":"JJA","k":"0.2","y":4.9,"x":1.95},{"s":"Ngong","p":"JJA","k":"0.2","y":8.1,"x":1.95},{"s":"Ngong","p":"JJA","k":"0.2","y":8.9,"x":2.85},{"s":"Ngong","p":"JJA","k":"0.2","y":12.0,"x":2.85},{"s":"Ngong","p":"JJA","k":"0.2","y":13.0,"x":3.44},{"s":"Ngong","p":"JJA","k":"0.2","y":14.0,"x":3.53},{"s":"Ngong","p":"JJA","k":"0.2","y":15.4,"x":3.62},{"s":"Ngong","p":"JJA","k":"0.2","y":17.2,"x":3.81},{"s":"Ngong","p":"JJA","k":"0.2","y":19.2,"x":3.95},{"s":"Ngong","p":"JJA","k":"0.2","y":21.1,"x":4.28},{"s":"Ngong","p":"JJA","k":"0.2","y":22.2,"x":4.38},{"s":"Ngong","p":"JJA","k":"0.2","y":24.5,"x":4.57},{"s":"Ngong","p":"JJA","k":"0.2","y":26.7,"x":4.99},{"s":"Ngong","p":"JJA","k":"0.2","y":27.6,"x":5.32},{"s":"Ngong","p":"JJA","k":"0.2","y":29.4,"x":5.69},{"s":"Ngong","p":"JJA","k":"0.2","y":30.7,"x":5.98},{"s":"Ngong","p":"JJA","k":"0.2","y":32.1,"x":6.02},{"s":"Ngong","p":"JJA","k":"0.2","y":33.5,"x":6.26},{"s":"Ngong","p":"JJA","k":"0.2","y":34.8,"x":6.63},{"s":"Ngong","p":"JJA","k":"0.2","y":35,"x":6.78},
{"s":"Ngong","p":"JJA","k":"0.1","y":4.0,"x":1.0},{"s":"Ngong","p":"JJA","k":"0.1","y":4.9,"x":2.0},{"s":"Ngong","p":"JJA","k":"0.1","y":8.1,"x":2.0},{"s":"Ngong","p":"JJA","k":"0.1","y":9.0,"x":3.0},{"s":"Ngong","p":"JJA","k":"0.1","y":12.1,"x":3.0},{"s":"Ngong","p":"JJA","k":"0.1","y":13.1,"x":4.0},{"s":"Ngong","p":"JJA","k":"0.1","y":19.2,"x":4.0},{"s":"Ngong","p":"JJA","k":"0.1","y":20.1,"x":5.0},{"s":"Ngong","p":"JJA","k":"0.1","y":23.1,"x":5.0},{"s":"Ngong","p":"JJA","k":"0.1","y":24.0,"x":6.0},{"s":"Ngong","p":"JJA","k":"0.1","y":29.0,"x":6.0},{"s":"Ngong","p":"JJA","k":"0.1","y":29.9,"x":7.0},{"s":"Ngong","p":"JJA","k":"0.1","y":35,"x":7.0},
{"s":"Ngong","p":"JJA","k":"line","y":1.1,"x":1.93},{"s":"Ngong","p":"JJA","k":"line","y":3.1,"x":2.01},{"s":"Ngong","p":"JJA","k":"line","y":4.9,"x":2.97},{"s":"Ngong","p":"JJA","k":"line","y":5.6,"x":3.06},{"s":"Ngong","p":"JJA","k":"line","y":7.0,"x":3.11},{"s":"Ngong","p":"JJA","k":"line","y":8.1,"x":3.95},{"s":"Ngong","p":"JJA","k":"line","y":9.3,"x":4.61},{"s":"Ngong","p":"JJA","k":"line","y":10.2,"x":4.73},{"s":"Ngong","p":"JJA","k":"line","y":13.1,"x":4.75},{"s":"Ngong","p":"JJA","k":"line","y":14.9,"x":5.08},{"s":"Ngong","p":"JJA","k":"line","y":15.9,"x":6.21},{"s":"Ngong","p":"JJA","k":"line","y":16.9,"x":6.26},{"s":"Ngong","p":"JJA","k":"line","y":18.1,"x":7.76},{"s":"Ngong","p":"JJA","k":"line","y":19.4,"x":7.81},{"s":"Ngong","p":"JJA","k":"line","y":22.8,"x":7.9},{"s":"Ngong","p":"JJA","k":"line","y":23.0,"x":8.0},

{"s":"Ngong","p":"SON","k":"1","y":24.2,"x":1.0},{"s":"Ngong","p":"SON","k":"1","y":24.4,"x":1.04},{"s":"Ngong","p":"SON","k":"1","y":25.3,"x":1.13},{"s":"Ngong","p":"SON","k":"1","y":28.5,"x":1.27},{"s":"Ngong","p":"SON","k":"1","y":32.6,"x":1.46},{"s":"Ngong","p":"SON","k":"1","y":35,"x":1.56},
{"s":"Ngong","p":"SON","k":"0.5","y":16.0,"x":1.0},{"s":"Ngong","p":"SON","k":"0.5","y":16.2,"x":1.05},{"s":"Ngong","p":"SON","k":"0.5","y":17.2,"x":1.13},{"s":"Ngong","p":"SON","k":"0.5","y":19.4,"x":1.32},{"s":"Ngong","p":"SON","k":"0.5","y":22.6,"x":1.56},{"s":"Ngong","p":"SON","k":"0.5","y":26.2,"x":1.7},{"s":"Ngong","p":"SON","k":"0.5","y":30.7,"x":1.89},{"s":"Ngong","p":"SON","k":"0.5","y":35,"x":1.98},
{"s":"Ngong","p":"SON","k":"0.2","y":16.0,"x":1.0},{"s":"Ngong","p":"SON","k":"0.2","y":16.75,"x":1.8},{"s":"Ngong","p":"SON","k":"0.2","y":18.0,"x":1.85},{"s":"Ngong","p":"SON","k":"0.2","y":20.3,"x":1.97},{"s":"Ngong","p":"SON","k":"0.2","y":26.0,"x":2.0},{"s":"Ngong","p":"SON","k":"0.2","y":26.8,"x":2.74},{"s":"Ngong","p":"SON","k":"0.2","y":29.8,"x":2.83},{"s":"Ngong","p":"SON","k":"0.2","y":32.6,"x":2.97},{"s":"Ngong","p":"SON","k":"0.2","y":35,"x":3.0},
{"s":"Ngong","p":"SON","k":"0.1","y":16.0,"x":1.0},{"s":"Ngong","p":"SON","k":"0.1","y":16.9,"x":2.0},{"s":"Ngong","p":"SON","k":"0.1","y":26.0,"x":2.0},{"s":"Ngong","p":"SON","k":"0.1","y":26.9,"x":3.0},{"s":"Ngong","p":"SON","k":"0.1","y":35,"x":3.0},
{"s":"Ngong","p":"SON","k":"line","y":5.2,"x":1.0},{"s":"Ngong","p":"SON","k":"line","y":6.0,"x":1.6},{"s":"Ngong","p":"SON","k":"line","y":11.1,"x":1.7},{"s":"Ngong","p":"SON","k":"line","y":12.0,"x":2.41},{"s":"Ngong","p":"SON","k":"line","y":14.0,"x":2.45},{"s":"Ngong","p":"SON","k":"line","y":15.0,"x":2.92},{"s":"Ngong","p":"SON","k":"line","y":18.1,"x":2.94},{"s":"Ngong","p":"SON","k":"line","y":19.9,"x":3.63},{"s":"Ngong","p":"SON","k":"line","y":26.2,"x":3.73},{"s":"Ngong","p":"SON","k":"line","y":27.1,"x":3.82},{"s":"Ngong","p":"SON","k":"line","y":28.0,"x":6.51},{"s":"Ngong","p":"SON","k":"line","y":29.4,"x":6.7},{"s":"Ngong","p":"SON","k":"line","y":31.0,"x":6.75},{"s":"Ngong","p":"SON","k":"line","y":32.1,"x":6.98},{"s":"Ngong","p":"SON","k":"line","y":34.8,"x":7.03}
  ]},
  "facet": {
    "row": {"field": "s", "type": "nominal", "sort": ["LTWP", "Kipeto", "Ngong"], "header": {"title": null, "labelAngle": -90, "labelPadding": 13}},
    "column": {"field": "p", "type": "nominal", "sort": ["DJF", "MAM", "JJA", "SON"], "header": {"title": null, "labelPadding": 9}}
  },
  "spacing": {"row": 23, "column": 22},
  "spec": {
    "width": 249,
    "height": 251,
    "layer": [
      {"transform": [{"filter": "datum.k === '0.1'"}], "mark": {"type": "area", "orient": "horizontal", "clip": true},
       "encoding": {
         "y": {"field": "y", "type": "quantitative", "scale": {"domain": [1, 35], "nice": false, "zero": false}, "axis": {"values": [5, 10, 15, 20, 25, 30, 35], "title": "Low CF Thresh (%)", "titlePadding": 17, "labelPadding": 3, "grid": true, "gridOpacity": {"condition": {"test": "datum.value === 35", "value": 0}, "value": 1}}},
         "x": {"field": "x", "type": "quantitative", "stack": null, "scale": {"domain": [1, 8], "nice": false, "zero": false}, "axis": {"values": [2, 4, 6, 8], "title": "Days", "labelPadding": 6, "titlePadding": 16, "grid": true, "gridOpacity": {"condition": {"test": "datum.value === 8", "value": 0}, "value": 1}}},
         "x2": {"datum": 1},
         "color": {"field": "k", "type": "nominal", "scale": {"domain": ["0.1", "0.2", "0.5", "1", "2", "5", "10", "20", "50"], "range": ["#2d1537", "#3d5fd6", "#1c9fe3", "#1ac57b", "#a4e03a", "#fec52b", "#fa7e17", "#c92707", "#7a0403"]}, "legend": null}
       }},
      {"transform": [{"filter": "datum.k === '0.2'"}], "mark": {"type": "area", "orient": "horizontal", "clip": true},
       "encoding": {"y": {"field": "y", "type": "quantitative"}, "x": {"field": "x", "type": "quantitative", "stack": null}, "x2": {"datum": 1}, "color": {"field": "k", "type": "nominal", "legend": null}}},
      {"transform": [{"filter": "datum.k === '0.5'"}], "mark": {"type": "area", "orient": "horizontal", "clip": true},
       "encoding": {"y": {"field": "y", "type": "quantitative"}, "x": {"field": "x", "type": "quantitative", "stack": null}, "x2": {"datum": 1}, "color": {"field": "k", "type": "nominal", "legend": null}}},
      {"transform": [{"filter": "datum.k === '1'"}], "mark": {"type": "area", "orient": "horizontal", "clip": true},
       "encoding": {"y": {"field": "y", "type": "quantitative"}, "x": {"field": "x", "type": "quantitative", "stack": null}, "x2": {"datum": 1}, "color": {"field": "k", "type": "nominal", "legend": null}}},
      {"transform": [{"filter": "datum.k === '2'"}], "mark": {"type": "area", "orient": "horizontal", "clip": true},
       "encoding": {"y": {"field": "y", "type": "quantitative"}, "x": {"field": "x", "type": "quantitative", "stack": null}, "x2": {"datum": 1}, "color": {"field": "k", "type": "nominal", "legend": null}}},
      {"transform": [{"filter": "datum.k === '5'"}], "mark": {"type": "area", "orient": "horizontal", "clip": true},
       "encoding": {"y": {"field": "y", "type": "quantitative"}, "x": {"field": "x", "type": "quantitative", "stack": null}, "x2": {"datum": 1}, "color": {"field": "k", "type": "nominal", "legend": null}}},
      {"transform": [{"filter": "datum.k === 'line'"}], "mark": {"type": "line", "color": "black", "strokeDash": [6, 3], "strokeWidth": 1.4, "clip": true},
       "encoding": {"y": {"field": "y", "type": "quantitative"}, "x": {"field": "x", "type": "quantitative"}, "order": {"field": "y", "type": "quantitative"}}}
    ]
  }
},
{
  "data": {"values": [
    {"j": 0, "j2": 1, "k": "0.1"}, {"j": 1, "j2": 2, "k": "0.2"}, {"j": 2, "j2": 3, "k": "0.5"}, {"j": 3, "j2": 4, "k": "1"}, {"j": 4, "j2": 5, "k": "2"}, {"j": 5, "j2": 6, "k": "5"}, {"j": 6, "j2": 7, "k": "10"}, {"j": 7, "j2": 8, "k": "20"}, {"j": 8, "j2": 9, "k": "50"}
  ]},
  "width": 1065,
  "height": 24,
  "view": {"stroke": null},
  "layer": [
    {"mark": {"type": "rect"},
     "encoding": {
       "x": {"field": "j", "type": "quantitative", "scale": {"domain": [-3.5, 12.475], "nice": false, "zero": false}, "axis": {"values": [0, 1, 2, 3, 4, 5, 6, 7, 8, 9], "labelExpr": "['0.1','0.2','0.5','1','2','5','10','20','50','114'][datum.value]", "title": "Events / year", "grid": false, "domain": false, "tickSize": 4, "labelPadding": 3, "titlePadding": 8}},
       "x2": {"field": "j2"},
       "color": {"field": "k", "type": "nominal", "legend": null}
     }},
    {"mark": {"type": "rect", "fill": null, "stroke": "black", "strokeWidth": 1},
     "encoding": {"x": {"datum": 0}, "x2": {"datum": 9}}}
  ]
}
],
"spacing": 18
}
